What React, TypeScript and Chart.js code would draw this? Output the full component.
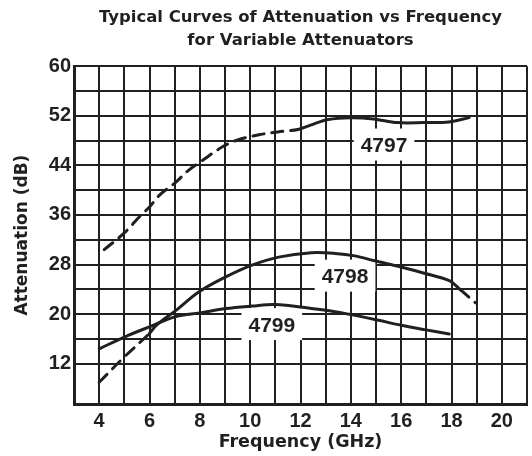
import { useEffect, useRef } from 'react';
import { Chart, registerables } from 'chart.js';

Chart.register(...registerables);

const titleLines = ['Typical Curves of Attenuation vs Frequency', 'for Variable Attenuators'];
const xAxisTitle = 'Frequency (GHz)';
const yAxisTitle = 'Attenuation (dB)';
const xTickLabels = [4, 6, 8, 10, 12, 14, 16, 18, 20];
const yTickLabels = [12, 20, 28, 36, 44, 52, 60];

const freq4797 = [4.2, 5, 5.6, 6, 6.4, 7.05, 7.55, 8.1, 8.9, 9.5, 10.3, 11.1, 11.9, 12.4, 13.1, 14, 14.9, 15.85, 16.9, 17.9, 18.7];
const att4797 = [30.4, 33.1, 35.7, 37.3, 39.2, 41.3, 43.2, 44.8, 47.0, 48.1, 48.9, 49.4, 49.8, 50.5, 51.4, 51.7, 51.5, 50.9, 50.9, 51.0, 51.7];

const freq4798 = [4, 5, 6, 6.27, 7.05, 7.97, 9.03, 10.07, 11.13, 12.43, 13.37, 14.16, 14.95, 15.99, 16.92, 17.91, 18.36, 18.96];
const att4798 = [9.0, 13.1, 16.9, 18.2, 20.6, 23.6, 26.0, 27.9, 29.2, 29.9, 29.8, 29.4, 28.6, 27.6, 26.6, 25.4, 23.9, 21.8];

const freq4799 = [4, 5, 6, 7.05, 8, 9.03, 10.07, 11, 12.43, 13.37, 14.16, 15.1, 16, 16.92, 17.91];
const att4799 = [14.4, 16.3, 17.95, 19.6, 20.2, 20.9, 21.3, 21.55, 20.9, 20.4, 19.8, 19.0, 18.2, 17.5, 16.8];

const curveNames = ['4797', '4798', '4799'];
const labelFreq = [15.32, 13.77, 10.86];
const labelAtt = [47.2, 26.05, 18.23];

const INK = '#231f20';
const DASH = [11, 8];
const TICK_FONT = { family: '"Liberation Sans", Arial, sans-serif', weight: 'bold' as const, size: 20 };
const TITLE_FAMILY = '"DejaVu Sans", Verdana, sans-serif';

const toPoints = (xs: number[], ys: number[]) => xs.map((x, i) => ({ x, y: ys[i] }));

const curveLabelPlugin = {
  id: 'curveLabels',
  beforeDatasetsDraw(chart: any) {
    const { ctx, scales } = chart;
    const xs = scales.x;
    const ys = scales.y;
    ctx.save();
    ctx.font = 'bold 21px "Liberation Sans", Arial, sans-serif';
    ctx.textAlign = 'center';
    ctx.textBaseline = 'middle';
    curveNames.forEach((name, i) => {
      const px = xs.getPixelForValue(labelFreq[i]);
      const py = ys.getPixelForValue(labelAtt[i]);
      const w = ctx.measureText(name).width + 14;
      const h = 32;
      ctx.fillStyle = '#ffffff';
      ctx.fillRect(px - w / 2, py - h / 2 - 1, w, h);
      ctx.fillStyle = INK;
      ctx.fillText(name, px, py + 1);
    });
    ctx.restore();
  },
};

const lineStyle = {
  borderColor: INK,
  borderWidth: 3,
  pointRadius: 0,
  pointHoverRadius: 0,
  tension: 0.35,
  fill: false,
  borderCapStyle: 'round' as const,
};

export default function App() {
  const ref = useRef<HTMLCanvasElement>(null);

  useEffect(() => {
    if (!ref.current) return;
    const chart = new Chart(ref.current, {
      type: 'line',
      data: {
        datasets: [
          {
            label: curveNames[0],
            data: toPoints(freq4797, att4797),
            ...lineStyle,
            segment: { borderDash: (c: any) => (c.p1.parsed.x <= 11.9 ? DASH : undefined) },
          },
          {
            label: curveNames[1],
            data: toPoints(freq4798, att4798),
            ...lineStyle,
            segment: {
              borderDash: (c: any) => (c.p1.parsed.x <= 6.0 || c.p0.parsed.x >= 18.3 ? DASH : undefined),
            },
          },
          {
            label: curveNames[2],
            data: toPoints(freq4799, att4799),
            ...lineStyle,
          },
        ],
      },
      options: {
        responsive: false,
        animation: false,
        events: [],
        layout: { padding: { left: 0, right: 2, top: 0, bottom: 0 } },
        plugins: {
          legend: { display: false },
          tooltip: { enabled: false },
          title: {
            display: true,
            text: titleLines,
            fullSize: false,
            color: INK,
            font: { family: TITLE_FAMILY, weight: 'bold', size: 16.5, lineHeight: '23.4px' },
            padding: { top: 6, bottom: 13.4 },
          },
        },
        scales: {
          x: {
            type: 'linear',
            min: 3,
            max: 21,
            ticks: {
              stepSize: 1,
              autoSkip: false,
              maxRotation: 0,
              padding: 5,
              color: INK,
              font: TICK_FONT,
              callback: (v: any) => (xTickLabels.includes(Number(v)) ? String(v) : ''),
            },
            grid: { color: INK, lineWidth: 2, drawTicks: false },
            border: { color: INK, width: 3 },
            title: {
              display: true,
              text: xAxisTitle,
              color: INK,
              font: { family: TITLE_FAMILY, weight: 'bold', size: 17.5 },
              padding: { top: 0, bottom: 3.5 },
            },
            afterFit: (s: any) => {
              s.height = 52;
            },
          },
          y: {
            type: 'linear',
            min: 5.5,
            max: 60,
            ticks: {
              stepSize: 4,
              autoSkip: false,
              padding: 3,
              color: INK,
              font: TICK_FONT,
              callback: (v: any) => (yTickLabels.includes(Number(v)) ? String(v) : ''),
            },
            grid: { color: INK, lineWidth: 2, drawTicks: false },
            border: { color: INK, width: 3 },
            title: {
              display: true,
              text: yAxisTitle,
              color: INK,
              font: { family: TITLE_FAMILY, weight: 'bold', size: 17 },
              padding: { top: 12, bottom: 0 },
            },
            afterFit: (s: any) => {
              s.width = 74;
            },
          },
        },
      },
      plugins: [curveLabelPlugin],
    } as any);
    return () => chart.destroy();
  }, []);

  return (
    <div style={{ position: 'fixed', left: 0, top: 0, width: 532, height: 456, background: '#ffffff' }}>
      <canvas ref={ref} width={532} height={456} style={{ display: 'block' }} />
    </div>
  );
}
